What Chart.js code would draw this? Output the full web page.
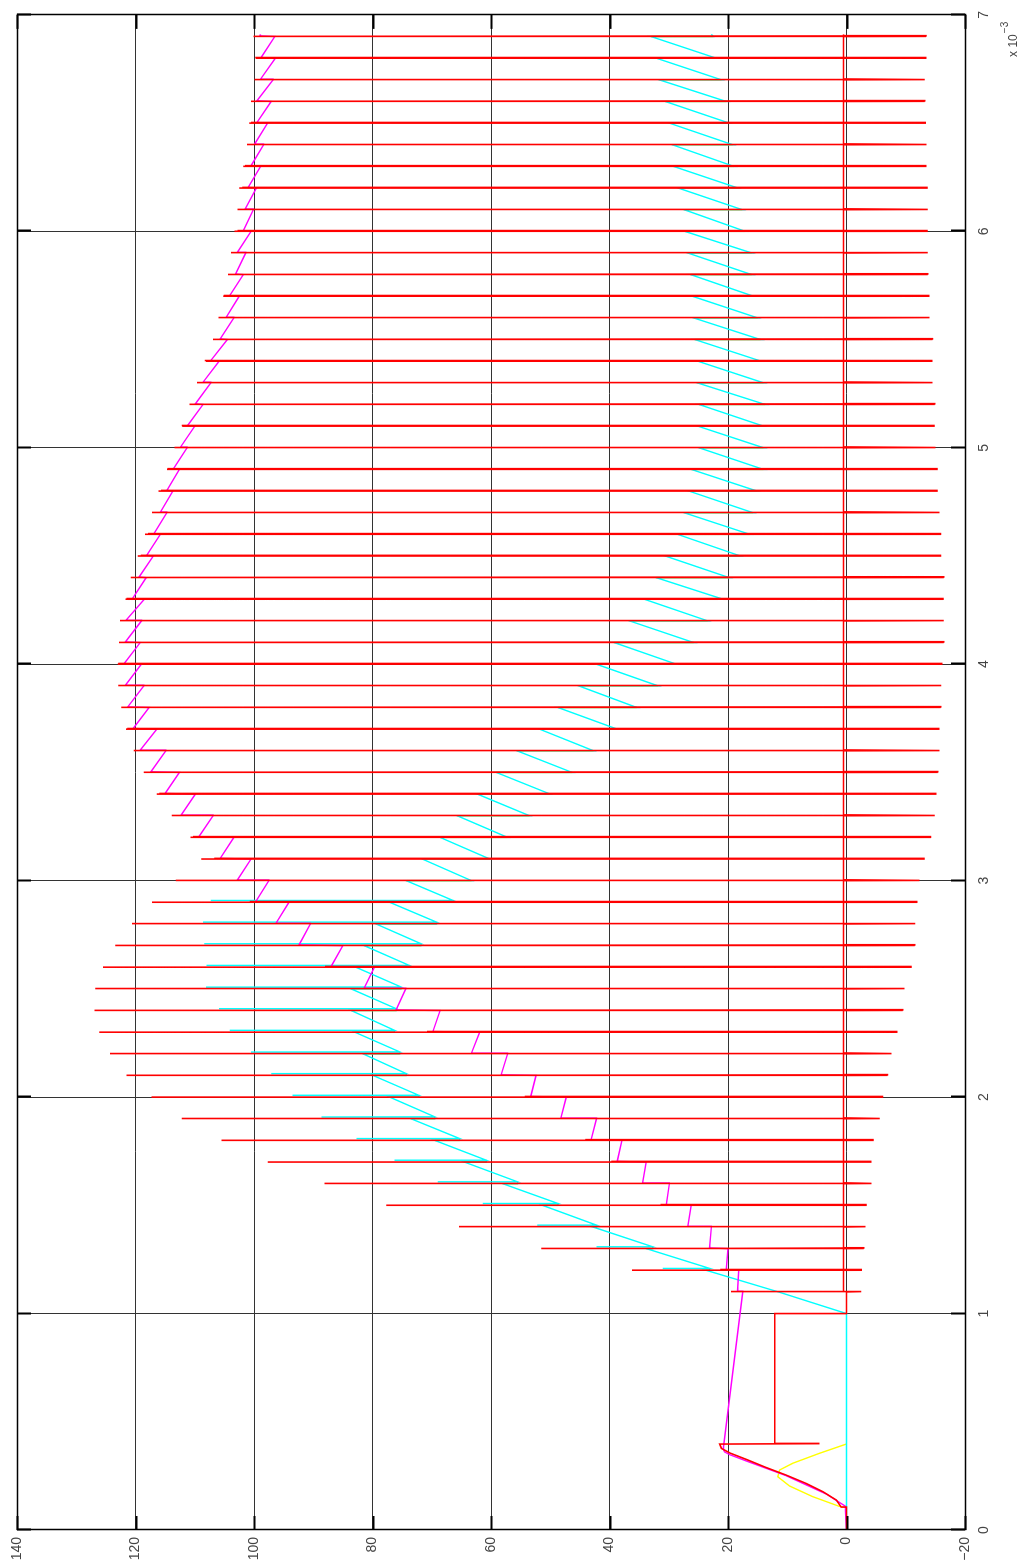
<!DOCTYPE html>
<html>
<head>
<meta charset="utf-8">
<script src="https://cdn.jsdelivr.net/npm/chart.js@4/dist/chart.umd.min.js"></script>
<style>
  html, body { margin: 0; padding: 0; background: #fff; overflow: hidden; width: 1027px; height: 1565px; }
  /* the figure is laid out landscape and turned a quarter turn counter-clockwise */
  #wrap { position: absolute; left: 0; top: 0; width: 1565px; height: 1027px;
          transform-origin: 0 0; transform: translate(0, 1565px) rotate(-90deg); }
  canvas { display: block; }
</style>
</head>
<body>
<div id="wrap"><canvas id="c" width="1565" height="1027"></canvas></div>
<script>
// time axis in milliseconds (axis shows x 10^-3 s)
const xTicks = [0, 1, 2, 3, 4, 5, 6, 7];
const yTicks = [-20, 0, 20, 40, 60, 80, 100, 120, 140];

// switching instants
const pulseTimes = [1.1, 1.2, 1.3, 1.4, 1.5, 1.6, 1.7, 1.8, 1.9, 2.0,
                    2.1, 2.2, 2.3, 2.4, 2.5, 2.6, 2.7, 2.8, 2.9, 3.0,
                    3.1, 3.2, 3.3, 3.4, 3.5, 3.6, 3.7, 3.8, 3.9, 4.0,
                    4.1, 4.2, 4.3, 4.4, 4.5, 4.6, 4.7, 4.8, 4.9, 5.0,
                    5.1, 5.2, 5.3, 5.4, 5.5, 5.6, 5.7, 5.8, 5.9, 6.0,
                    6.1, 6.2, 6.3, 6.4, 6.5, 6.6, 6.7, 6.8, 6.9];

// red trace: spike maximum and minimum at each switching instant
const redPeak = [19.5, 36.2, 51.5, 65.4, 77.7, 88.1, 97.7, 105.5, 112.2, 117.3,
                 121.5, 124.3, 126.1, 126.9, 126.8, 125.5, 123.4, 120.6, 117.2, 113.2,
                 108.9, 110.7, 113.9, 116.4, 118.6, 120.3, 121.6, 122.4, 122.9, 123.0,
                 122.8, 122.6, 121.7, 120.8, 119.6, 118.4, 117.2, 116.1, 114.7, 113.3,
                 112.1, 110.7, 109.3, 108.1, 106.9, 106.0, 105.2, 104.4, 103.9, 103.3,
                 102.8, 102.5, 101.8, 101.2, 100.8, 100.1, 99.9, 99.7, 100.1];
const redTrough = [-2.5, -2.6, -2.9, -3.2, -3.4, -4.2, -4.2, -4.6, -5.6, -6.2,
                   -6.9, -7.6, -8.6, -9.5, -9.8, -11.0, -11.5, -11.6, -12.0, -12.3,
                   -13.2, -14.3, -14.9, -15.2, -15.4, -15.7, -15.7, -15.9, -16.0, -16.2,
                   -16.4, -16.4, -16.4, -16.4, -16.0, -16.0, -15.7, -15.4, -15.4, -15.0,
                   -14.9, -14.9, -14.5, -14.5, -14.5, -14.0, -14.0, -13.7, -13.7, -13.7,
                   -13.7, -13.7, -13.5, -13.5, -13.4, -13.2, -13.2, -13.5, -13.4];
const redFloor = 0.5;

// magenta trace: value just before and just after each switching instant
const magBefore = [17.5, 18.2, 20.0, 22.8, 26.2, 29.9, 33.8, 37.9, 42.2, 47.3,
                   52.4, 57.2, 61.9, 68.6, 74.4, 79.7, 85.0, 90.5, 94.1, 97.5,
                   100.5, 103.4, 106.9, 109.9, 112.6, 114.9, 116.4, 117.7, 118.6, 119.0,
                   119.2, 119.0, 118.5, 118.2, 117.0, 115.8, 114.7, 113.7, 112.6, 111.3,
                   110.0, 108.6, 107.3, 105.9, 104.5, 103.4, 102.5, 101.8, 101.4, 100.5,
                   100.1, 99.6, 98.9, 98.4, 97.7, 97.1, 96.8, 96.4, 96.5];
const magAfter = [18.4, 20.3, 23.1, 26.8, 30.4, 34.4, 38.7, 43.1, 48.2, 53.3,
                  58.3, 63.3, 69.8, 76.0, 81.4, 87.0, 92.4, 96.3, 99.7, 102.8,
                  105.7, 109.3, 112.3, 115.0, 117.4, 119.2, 120.4, 121.3, 121.7, 121.9,
                  121.7, 121.6, 120.5, 119.4, 118.1, 116.9, 115.8, 114.7, 113.6, 112.4,
                  111.2, 109.9, 108.6, 107.3, 105.7, 104.7, 104.1, 103.1, 102.8, 101.8,
                  101.5, 101.0, 100.5, 99.9, 99.5, 99.5, 98.9, 98.8, 99.0];

// cyan trace: ramp end before each instant, ramp start after it, and the brief spike (null = none)
const cyanBefore = [11.5, 23.7, 33.8, 42.8, 51.3, 58.0, 64.5, 69.5, 73.5, 77.1,
                    79.9, 81.6, 83.0, 83.6, 83.6, 82.8, 81.4, 79.4, 77.1, 74.3,
                    71.6, 68.6, 65.7, 62.3, 59.1, 55.6, 51.8, 48.7, 45.2, 42.2,
                    39.2, 36.6, 34.1, 32.1, 30.6, 28.5, 27.4, 26.6, 26.2, 24.9,
                    25.1, 24.9, 25.2, 25.1, 25.6, 25.8, 26.0, 26.3, 26.8, 27.3,
                    27.4, 28.4, 29.2, 29.4, 29.9, 30.6, 31.6, 32.1, 33.0];
const cyanAfter = [11.5, 23.1, 32.7, 42.2, 48.7, 55.5, 60.8, 65.3, 69.5, 72.2,
                   74.3, 75.4, 76.3, 76.0, 75.2, 73.8, 71.8, 69.2, 66.4, 63.3,
                   60.2, 57.2, 53.5, 50.0, 46.3, 42.7, 38.7, 35.4, 31.8, 28.7,
                   25.8, 23.4, 20.8, 19.8, 17.9, 16.3, 15.8, 15.1, 14.0, 14.0,
                   14.0, 13.7, 14.0, 14.4, 14.5, 15.0, 15.7, 16.0, 16.0, 17.1,
                   17.6, 18.3, 19.0, 19.2, 19.8, 20.3, 21.1, 22.0, 22.5];
const cyanSpike = [null, 31.0, 42.2, 52.2, 61.4, 69.0, 76.3, 82.7, 88.6, 93.5,
                   97.1, 100.5, 104.1, 105.9, 108.1, 108.0, 108.4, 108.6, 107.3, null,
                   null, null, null, null, null, null, null, null, null, null,
                   null, null, null, null, null, null, null, null, null, null,
                   null, null, null, null, null, null, null, null, null, null,
                   null, null, null, null, null, null, null, null, null];

// start-up section (0 .. 1 ms)
const startRedT = [0, 0.105, 0.106, 0.138, 0.177, 0.215, 0.254, 0.289, 0.326, 0.356, 0.377, 0.397];
const startRedV = [0, 0, 0.9, 1.7, 4.0, 6.8, 10.2, 13.6, 16.9, 19.7, 21.1, 21.4];
const startMagT = [0, 0.11, 0.166, 0.25, 0.319, 0.348, 0.361, 0.375];
const startMagV = [0, 0.2, 3.4, 10.1, 16.9, 19.7, 20.6, 20.8];
const bumpT = [0.105, 0.11, 0.154, 0.203, 0.246, 0.277, 0.308, 0.354, 0.397];
const bumpV = [0, 1.3, 5.7, 9.6, 11.6, 11.3, 9.1, 4.6, 0.05];
const holdLevel = 12.1;   // red plateau after the first transient
const holdDip = 4.7;      // short dip when the plateau starts
const holdEnd = 1.0;      // red falls to zero, cyan ramp begins
const traceEnd = 6.91;
const magEnd = 98.9;
const cyanEnd = 22.8;

// ---- build point lists ----
const redPts = [];
startRedT.forEach((t, i) => redPts.push({ x: t, y: startRedV[i] }));
redPts.push({ x: 0.399, y: holdDip }, { x: 0.400, y: holdLevel },
            { x: holdEnd, y: holdLevel }, { x: holdEnd, y: 0 });
pulseTimes.forEach((t, k) => {
  const before = k === 0 ? 0 : redFloor;
  redPts.push({ x: t, y: before }, { x: t, y: redPeak[k] }, { x: t, y: redTrough[k] },
              { x: t + 0.001, y: magAfter[k] - 3 }, { x: t + 0.002, y: magAfter[k] + 1 },
              { x: t + 0.003, y: redTrough[k] }, { x: t + 0.004, y: redFloor });
});
redPts.push({ x: traceEnd, y: redFloor });

const magPts = [];
startMagT.forEach((t, i) => magPts.push({ x: t, y: startMagV[i] }));
pulseTimes.forEach((t, k) => {
  magPts.push({ x: t, y: magBefore[k] }, { x: t + 0.003, y: magAfter[k] });
});
magPts.push({ x: traceEnd, y: magEnd });

// cyan steps down on the red switching edge, then (early on) spikes just after it
const cyanPts = [{ x: 0, y: 0 }, { x: holdEnd, y: 0 }];
pulseTimes.forEach((t, k) => {
  cyanPts.push({ x: t, y: cyanBefore[k] }, { x: t, y: cyanAfter[k] });
  if (cyanSpike[k] !== null) {
    cyanPts.push({ x: t + 0.008, y: cyanAfter[k] }, { x: t + 0.008, y: cyanSpike[k] },
                 { x: t + 0.009, y: cyanAfter[k] });
  }
});
cyanPts.push({ x: traceEnd, y: cyanEnd });

const yellowPts = [];
bumpT.forEach((t, i) => yellowPts.push({ x: t, y: bumpV[i] }));
yellowPts.push({ x: 0.4, y: null });
pulseTimes.forEach((t, k) => {
  yellowPts.push({ x: t, y: cyanBefore[k] }, { x: t, y: cyanAfter[k] },
                 { x: t + 0.0002, y: null });
});

// ---- box, inward tick marks and exponent label ----
const TICK = 14;
const framePlugin = {
  id: 'frame',
  afterDraw(chart) {
    const { ctx, chartArea: a, scales: { x, y } } = chart;
    ctx.save();
    ctx.strokeStyle = '#000';
    ctx.lineWidth = 2;
    ctx.beginPath();
    xTicks.forEach(v => {
      const p = Math.round(x.getPixelForValue(v)) + 0.5;
      ctx.moveTo(p, a.bottom); ctx.lineTo(p, a.bottom - TICK);
      ctx.moveTo(p, a.top); ctx.lineTo(p, a.top + TICK);
    });
    yTicks.forEach(v => {
      const p = Math.round(y.getPixelForValue(v)) + 0.5;
      ctx.moveTo(a.left, p); ctx.lineTo(a.left + TICK, p);
      ctx.moveTo(a.right, p); ctx.lineTo(a.right - TICK, p);
    });
    ctx.stroke();
    ctx.lineWidth = 1.5;
    ctx.strokeRect(Math.round(a.left) + 0.5, Math.round(a.top) + 0.5,
                   Math.round(a.right - a.left), Math.round(a.bottom - a.top));
    ctx.fillStyle = '#444';
    ctx.textBaseline = 'alphabetic';
    ctx.font = '12px "Liberation Sans", Arial, sans-serif';
    const base = 'x 10';
    const bx = a.right - 42;
    ctx.fillText(base, bx, a.bottom + 52);
    const w = ctx.measureText(base).width;
    ctx.font = '10px "Liberation Sans", Arial, sans-serif';
    ctx.fillText('\u22123', bx + w + 1, a.bottom + 43);
    ctx.restore();
  }
};

const tickFont = { family: '"Liberation Sans", Arial, sans-serif', size: 14 };

new Chart(document.getElementById('c'), {
  type: 'scatter',
  data: {
    datasets: [
      { label: 'red', data: redPts, borderColor: '#ff0000', borderWidth: 1.6, order: 0 },
      { label: 'magenta', data: magPts, borderColor: '#ff00ff', borderWidth: 1.4, order: 1 },
      { label: 'cyan', data: cyanPts, borderColor: '#00ffff', borderWidth: 1.4, order: 2 },
      { label: 'yellow', data: yellowPts, borderColor: '#ffff00', borderWidth: 1.4, order: 3 }
    ].map(d => Object.assign(d, { showLine: true, pointRadius: 0, pointHoverRadius: 0,
                                  tension: 0, fill: false, spanGaps: false,
                                  backgroundColor: d.borderColor }))
  },
  options: {
    responsive: false,
    animation: false,
    devicePixelRatio: 1,
    events: [],
    layout: { padding: { top: 17, right: 12, left: 0, bottom: 0 } },
    plugins: { legend: { display: false }, tooltip: { enabled: false } },
    scales: {
      x: {
        type: 'linear', min: 0, max: 7,
        afterBuildTicks: s => { s.ticks = xTicks.map(v => ({ value: v })); },
        afterFit: s => { s.height = 62; },
        grid: { color: '#333', lineWidth: 1, drawTicks: false },
        border: { display: false },
        ticks: { font: tickFont, color: '#444', padding: 11, maxRotation: 0,
                 callback: v => String(v) }
      },
      y: {
        type: 'linear', min: -20, max: 140,
        afterBuildTicks: s => { s.ticks = yTicks.map(v => ({ value: v })); },
        afterFit: s => { s.width = 35; },
        grid: { color: '#333', lineWidth: 1, drawTicks: false },
        border: { display: false },
        ticks: { font: tickFont, color: '#444', padding: 7,
                 callback: v => v < 0 ? '\u2212' + Math.abs(v) : String(v) }
      }
    }
  },
  plugins: [framePlugin]
});
</script>
</body>
</html>
